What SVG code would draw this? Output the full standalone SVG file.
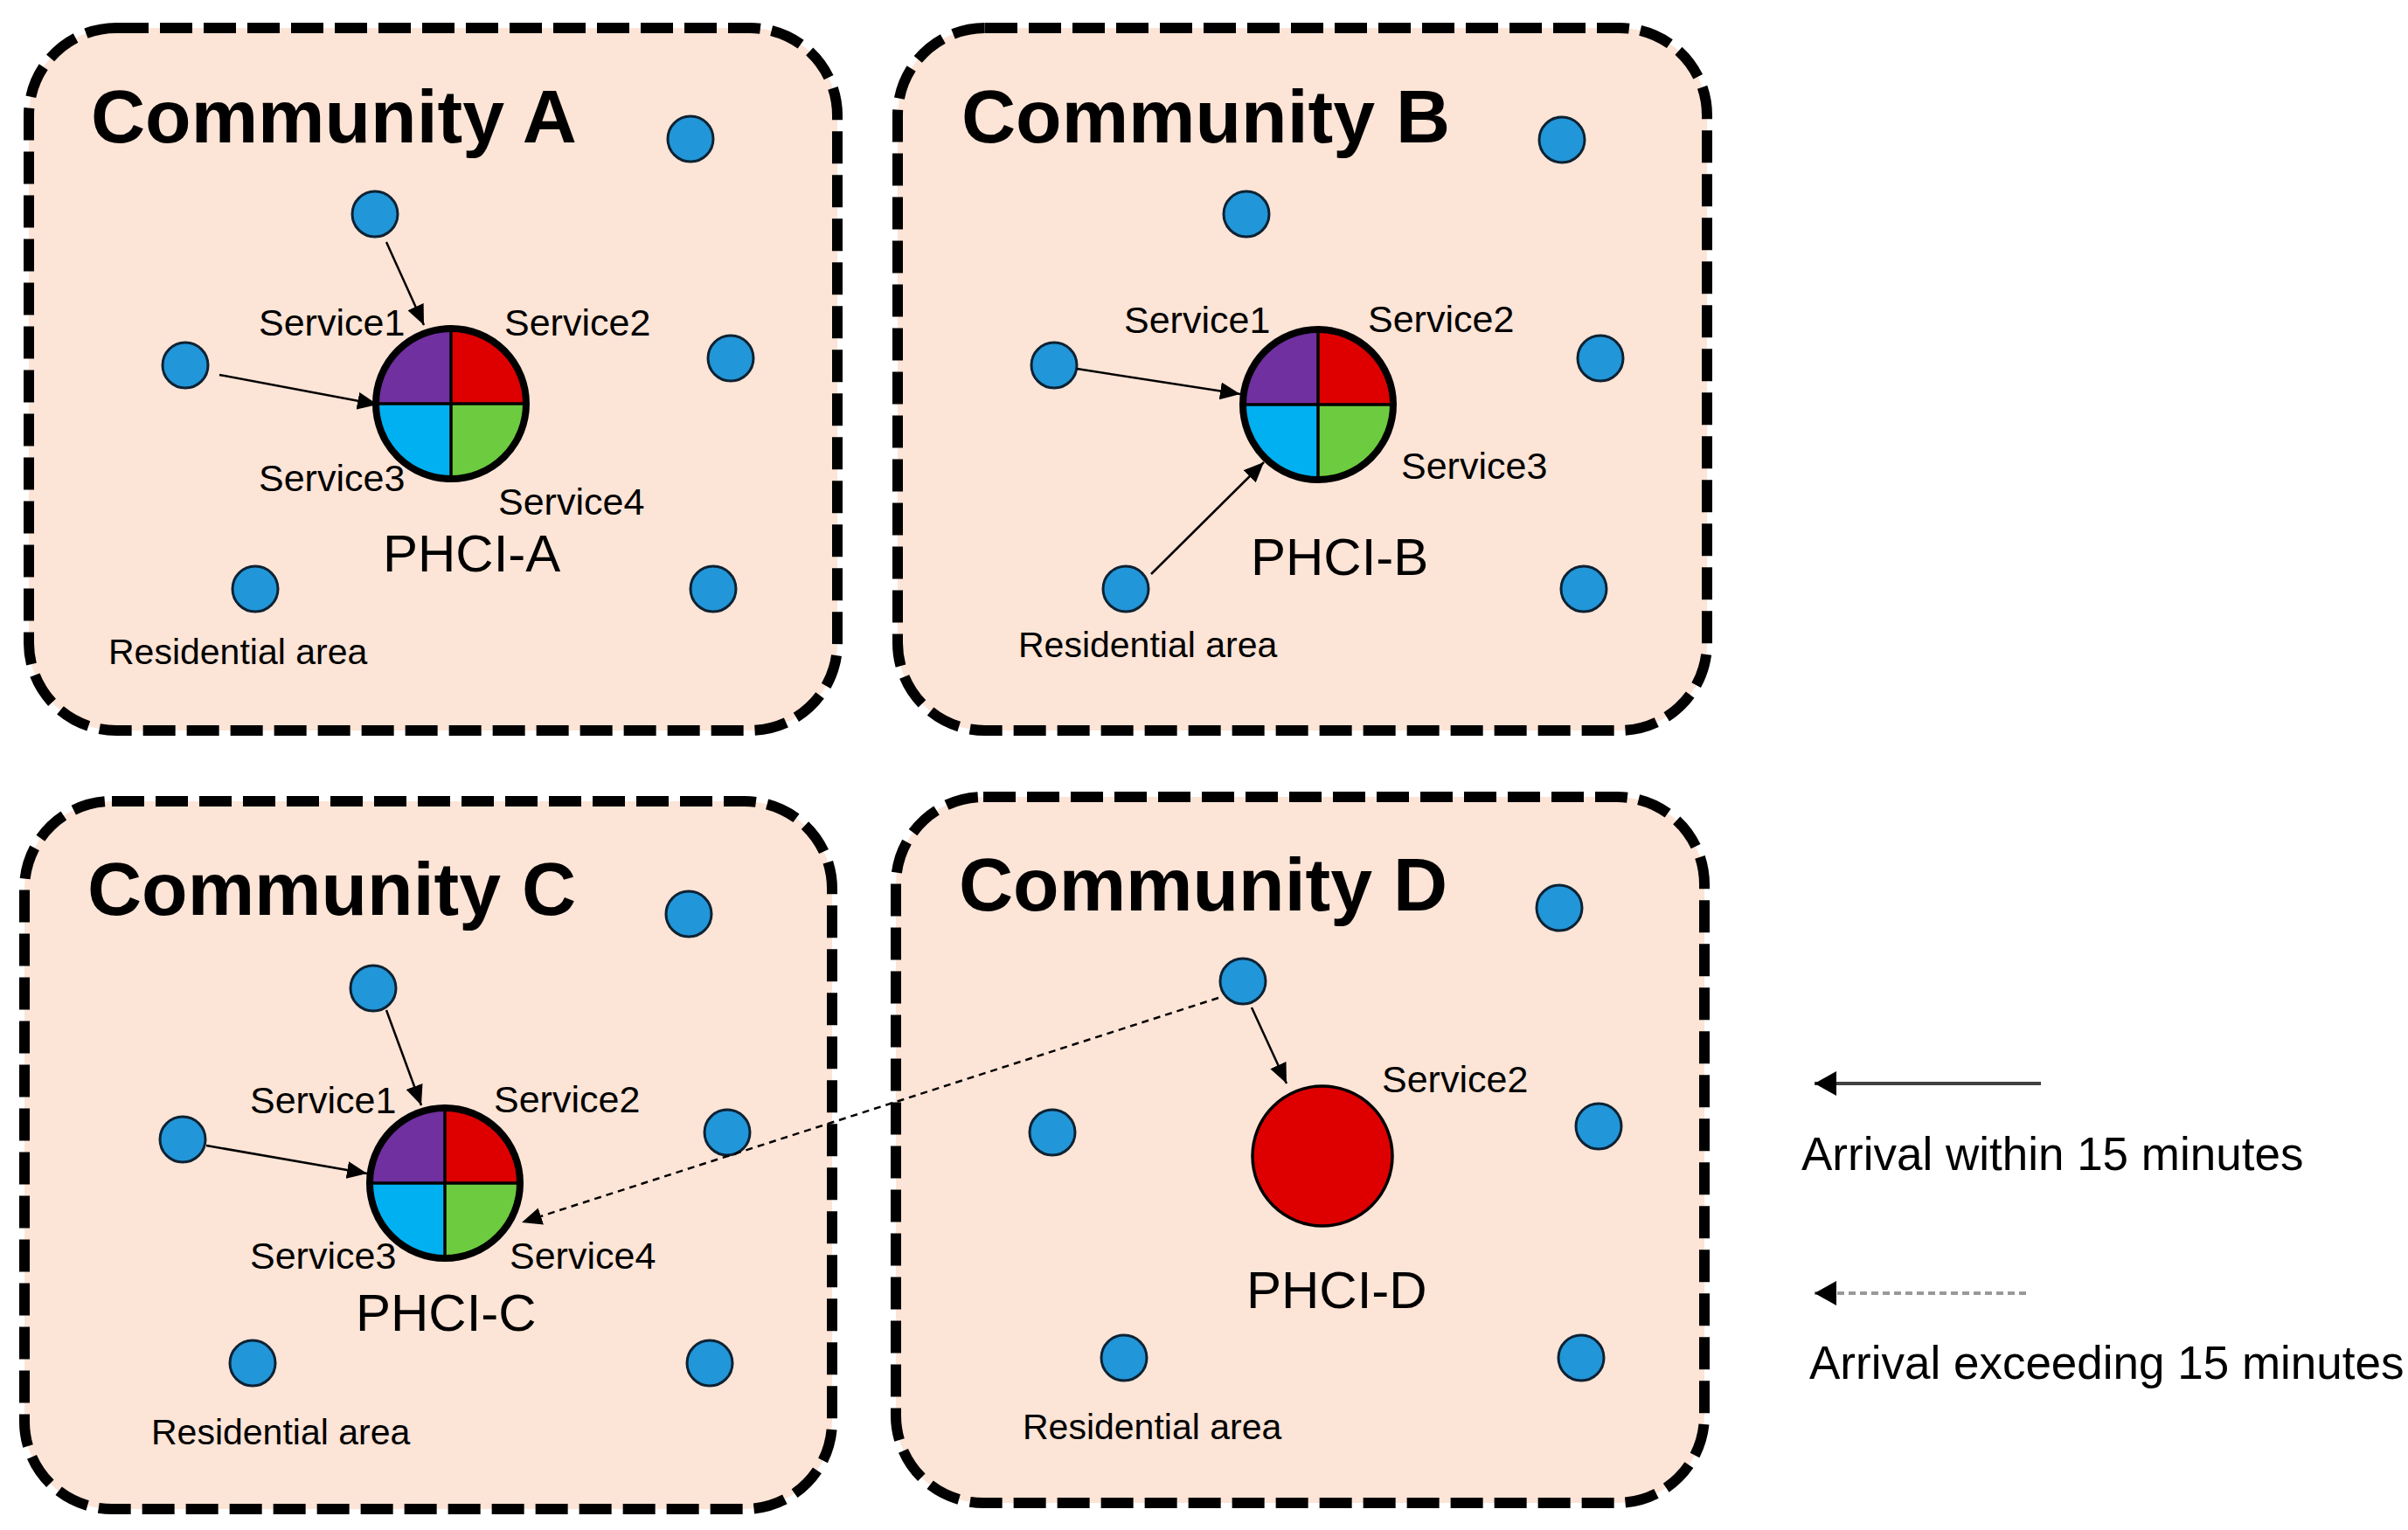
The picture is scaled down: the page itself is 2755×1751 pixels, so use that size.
<svg xmlns="http://www.w3.org/2000/svg" xmlns:xlink="http://www.w3.org/1999/xlink" width="2755" height="1751" viewBox="0 0 2755 1751">
<style>
.box{fill:#FCE4D6;stroke:#000;stroke-width:12;stroke-dasharray:37 13}
.title{font-family:"Liberation Sans",Arial,sans-serif;font-weight:bold;font-size:86px;fill:#000}
.svc{font-family:"Liberation Sans",Arial,sans-serif;font-size:43px;fill:#000}
.phci{font-family:"Liberation Sans",Arial,sans-serif;font-size:60px;fill:#000}
.res{font-family:"Liberation Sans",Arial,sans-serif;font-size:41px;fill:#000}
.leg{font-family:"Liberation Sans",Arial,sans-serif;font-size:53px;fill:#000}
.dot{fill:#2196D8;stroke:#0D2233;stroke-width:3}
.conn{stroke:#000;stroke-width:2.5;fill:none;marker-end:url(#ah)}
.dconn{stroke:#000;stroke-width:2.5;fill:none;stroke-dasharray:8 6;marker-end:url(#ah)}
</style>
<defs>
<marker id="ah" markerUnits="userSpaceOnUse" markerWidth="24" markerHeight="20" refX="23" refY="10" orient="auto">
<path d="M0,0 L23,10 L0,20 Z" fill="#000"/>
</marker>
<marker id="ahl" markerUnits="userSpaceOnUse" markerWidth="26" markerHeight="28" refX="25" refY="14" orient="auto">
<path d="M0,0 L25,14 L0,28 Z" fill="#000"/>
</marker>
<g id="quad">
<path d="M0,0 L-86,0 A86,86 0 0 1 0,-86 Z" fill="#7030A0"/>
<path d="M0,0 L0,-86 A86,86 0 0 1 86,0 Z" fill="#DE0000"/>
<path d="M0,0 L86,0 A86,86 0 0 1 0,86 Z" fill="#6DCB3F"/>
<path d="M0,0 L0,86 A86,86 0 0 1 -86,0 Z" fill="#00B0F0"/>
<line x1="-86" y1="0" x2="86" y2="0" stroke="#000" stroke-width="3.5"/>
<line x1="0" y1="-86" x2="0" y2="86" stroke="#000" stroke-width="3.5"/>
<circle r="86" fill="none" stroke="#000" stroke-width="8"/>
</g>
</defs>
<rect width="2755" height="1751" fill="#fff"/>

<g id="community-a">
<rect class="box" x="33" y="32" width="925" height="804" rx="100" ry="100"/>
<text class="title" x="104" y="163">Community A</text>
<circle id="a-dot1" class="dot" cx="790" cy="159" r="26"/>
<circle id="a-dot2" class="dot" cx="429" cy="245" r="26"/>
<circle id="a-dot3" class="dot" cx="212" cy="418" r="26"/>
<circle id="a-dot4" class="dot" cx="836" cy="410" r="26"/>
<circle id="a-dot5" class="dot" cx="292" cy="674" r="26"/>
<circle id="a-dot6" class="dot" cx="816" cy="674" r="26"/>
<text class="res" x="124" y="760">Residential area</text>
</g>
<g id="phci-a">
<use xlink:href="#quad" href="#quad" transform="translate(516,462)"/>
<text class="svc" x="296" y="384">Service1</text>
<text class="svc" x="577" y="384">Service2</text>
<text class="svc" x="296" y="562">Service3</text>
<text class="svc" x="570" y="589">Service4</text>
<text class="phci" x="438" y="654">PHCI-A</text>
</g>

<g id="community-b">
<rect class="box" x="1027" y="32" width="926" height="804" rx="100" ry="100"/>
<text class="title" x="1100" y="163">Community B</text>
<circle id="b-dot1" class="dot" cx="1787" cy="160" r="26"/>
<circle id="b-dot2" class="dot" cx="1426" cy="245" r="26"/>
<circle id="b-dot3" class="dot" cx="1206" cy="418" r="26"/>
<circle id="b-dot4" class="dot" cx="1831" cy="410" r="26"/>
<circle id="b-dot5" class="dot" cx="1288" cy="674" r="26"/>
<circle id="b-dot6" class="dot" cx="1812" cy="674" r="26"/>
<text class="res" x="1165" y="752">Residential area</text>
</g>
<g id="phci-b">
<use xlink:href="#quad" href="#quad" transform="translate(1508,463)"/>
<text class="svc" x="1286" y="381">Service1</text>
<text class="svc" x="1565" y="380">Service2</text>
<text class="svc" x="1603" y="548">Service3</text>
<text class="phci" x="1431" y="658">PHCI-B</text>
</g>

<g id="community-c">
<rect class="box" x="28" y="917" width="924" height="810" rx="100" ry="100"/>
<text class="title" x="100" y="1047">Community C</text>
<circle id="c-dot1" class="dot" cx="788" cy="1046" r="26"/>
<circle id="c-dot2" class="dot" cx="427" cy="1131" r="26"/>
<circle id="c-dot3" class="dot" cx="209" cy="1304" r="26"/>
<circle id="c-dot4" class="dot" cx="832" cy="1296" r="26"/>
<circle id="c-dot5" class="dot" cx="289" cy="1560" r="26"/>
<circle id="c-dot6" class="dot" cx="812" cy="1560" r="26"/>
<text class="res" x="173" y="1653">Residential area</text>
</g>
<g id="phci-c">
<use xlink:href="#quad" href="#quad" transform="translate(509,1354)"/>
<text class="svc" x="286" y="1274">Service1</text>
<text class="svc" x="565" y="1273">Service2</text>
<text class="svc" x="286" y="1452">Service3</text>
<text class="svc" x="583" y="1452">Service4</text>
<text class="phci" x="407" y="1523">PHCI-C</text>
</g>

<g id="community-d">
<rect class="box" x="1025" y="912" width="925" height="808" rx="100" ry="100"/>
<text class="title" x="1097" y="1042">Community D</text>
<circle id="d-dot1" class="dot" cx="1784" cy="1039" r="26"/>
<circle id="d-dot2" class="dot" cx="1422" cy="1123" r="26"/>
<circle id="d-dot3" class="dot" cx="1204" cy="1296" r="26"/>
<circle id="d-dot4" class="dot" cx="1829" cy="1289" r="26"/>
<circle id="d-dot5" class="dot" cx="1286" cy="1554" r="26"/>
<circle id="d-dot6" class="dot" cx="1809" cy="1554" r="26"/>
<text class="res" x="1170" y="1647">Residential area</text>
</g>
<g id="phci-d">
<circle cx="1513" cy="1323" r="80" fill="#DE0000" stroke="#000" stroke-width="3.5"/>
<text class="svc" x="1581" y="1250">Service2</text>
<text class="phci" x="1426" y="1497">PHCI-D</text>
</g>

<g id="connectors">
<line class="conn" x1="442" y1="277" x2="485" y2="372"/>
<line class="conn" x1="251" y1="429" x2="432" y2="463"/>
<line class="conn" x1="1232" y1="422" x2="1419" y2="451"/>
<line class="conn" x1="1317" y1="657" x2="1446" y2="529"/>
<line class="conn" x1="442" y1="1156" x2="482" y2="1265"/>
<line class="conn" x1="236" y1="1311" x2="420" y2="1343"/>
<line class="conn" x1="1432" y1="1153" x2="1472" y2="1240"/>
<line class="dconn" x1="1394" y1="1142" x2="597" y2="1399"/>
</g>

<g id="legend">
<line x1="2335" y1="1240" x2="2076" y2="1240" stroke="#404040" stroke-width="4" marker-end="url(#ahl)"/>
<text class="leg" x="2061" y="1339">Arrival within 15 minutes</text>
<line x1="2318" y1="1480" x2="2076" y2="1480" stroke="#999" stroke-width="4" stroke-dasharray="8 5" marker-end="url(#ahl)"/>
<text class="leg" x="2070" y="1578">Arrival exceeding 15 minutes</text>
</g>
</svg>
